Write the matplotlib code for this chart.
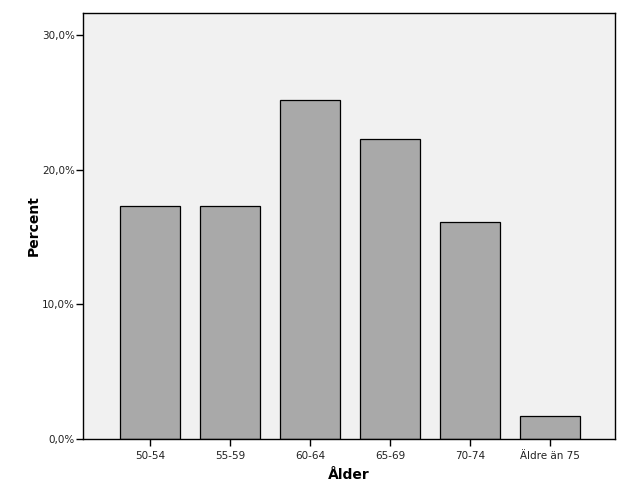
import matplotlib
matplotlib.use("Agg")
import matplotlib.pyplot as plt
import numpy as np
from matplotlib.ticker import FuncFormatter

# age groups and share of respondents (%)
groups = ["50-54", "55-59", "60-64", "65-69", "70-74", "Äldre än 75"]
percent = [17.3, 17.3, 25.2, 22.3, 16.1, 1.7]

fig = plt.figure(figsize=(6.29, 5.04), dpi=100)
ax = fig.add_axes([83 / 629, 1 - 439 / 504, (615 - 83) / 629, (439 - 13) / 504])
ax.set_facecolor("#F1F1F1")

x = np.arange(len(groups))
ax.bar(x, percent, width=0.75, color="#A9A9A9", edgecolor="black", linewidth=0.9)

ax.set_xlim(-0.8375, 5.8125)
ax.set_ylim(0, 31.63)
ax.set_xticks(x)
ax.set_xticklabels(groups)
ax.set_yticks([0, 10, 20, 30])
ax.yaxis.set_major_formatter(FuncFormatter(lambda v, p: f"{v:.1f}%".replace(".", ",")))
ax.tick_params(axis="both", direction="out", length=5, width=1, labelsize=7.5,
               color="black", labelcolor="#222222")
ax.tick_params(axis="y", pad=1)

for s in ax.spines.values():
    s.set_linewidth(1)

ax.set_xlabel("Ålder", fontsize=10, fontweight="bold", labelpad=5)
ax.set_ylabel("Percent", fontsize=10, fontweight="bold", labelpad=1)

fig.savefig("out.png", dpi=100)
